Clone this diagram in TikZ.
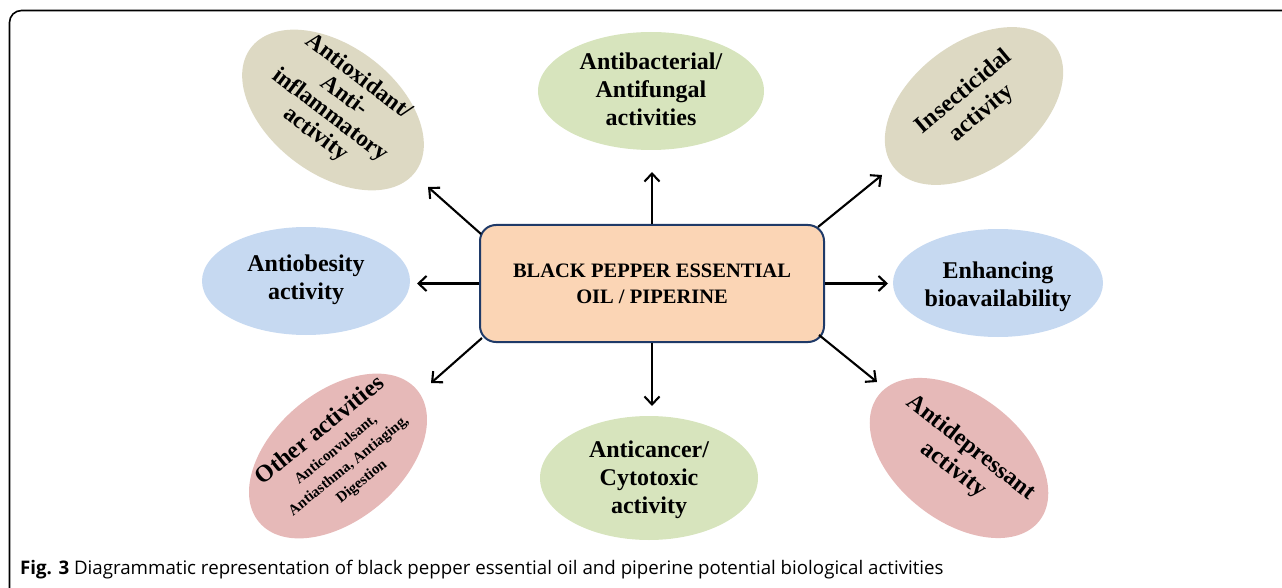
\documentclass[tikz,border=0pt]{standalone}
\usepackage{fontspec}
\setmainfont{Liberation Serif}
\newfontfamily\capfont{Open Sans}
\usetikzlibrary{shapes.geometric,arrows.meta}
\definecolor{tanc}{HTML}{DDD9C3}
\definecolor{greenc}{HTML}{D7E4BD}
\definecolor{bluec}{HTML}{C6D9F1}
\definecolor{pinkc}{HTML}{E6B9B8}
\definecolor{peach}{HTML}{FBD5B5}
\definecolor{navy}{HTML}{1F3A68}
\begin{document}
\begin{tikzpicture}[x=1pt,y=-1pt,
  ell/.style={ellipse, draw=none, inner sep=0pt},
  lbl/.style={font=\fontsize{24}{28}\selectfont\bfseries, align=center, text=black, inner sep=0pt},
  arr/.style={line width=2.1pt, -{Straight Barb[length=8pt,width=15pt,line width=2.1pt]}}]
\useasboundingbox (0,0) rectangle (1282,588);
% frame
\draw[line width=1.6pt, rounded corners=12pt] (1300,10.5) -- (9.5,10.5) -- (9.5,600);
% ellipses
\node[ell, fill=tanc, minimum width=206pt, minimum height=128pt, rotate=-37] (tl) at (333,110) {};
\node[lbl, rotate=-37, font=\fontsize{23.5}{24}\selectfont\bfseries] (tlt) at (337,106) {Antioxidant/\\Anti-\\inflammatory\\activity};
\node[ell, fill=greenc, minimum width=226pt, minimum height=118pt] (tm) at (651,91) {};
\node[lbl] (tmt) at (651,89) {Antibacterial/\\Antifungal\\activities};
\node[ell, fill=tanc, minimum width=202pt, minimum height=126pt, rotate=37] (tr) at (974,106) {};
\node[lbl, rotate=40] (trt) at (973,103) {Insecticidal\\activity};
\node[ell, fill=bluec, minimum width=208pt, minimum height=108pt] (ml) at (306,281) {};
\node[lbl] (mlt) at (306,280) {Antiobesity\\activity};
\node[ell, fill=bluec, minimum width=210pt, minimum height=108pt] (mr) at (998,283) {};
\node[lbl] (mrt) at (998,287) {Enhancing\\bioavailability};
\node[ell, fill=pinkc, minimum width=206pt, minimum height=128pt, rotate=40] (bl) at (338,456) {};
\node[lbl, rotate=39, align=center, font=\fontsize{15}{17.5}\selectfont\bfseries] (blt) at (340,455) {{\fontsize{24}{28}\selectfont Other activities}\\[5pt]Anticonvulsant,\\[3pt]Antiasthma, Antiaging,\\[3pt]Digestion};
\node[ell, fill=greenc, minimum width=218pt, minimum height=124pt] (bm) at (649,478) {};
\node[lbl] (bmt) at (649,480) {Anticancer/\\Cytotoxic\\activity};
\node[ell, fill=pinkc, minimum width=204pt, minimum height=126pt, rotate=-38] (br) at (959,458) {};
\node[lbl, rotate=-38] (brt) at (962,459) {Antidepressant\\activity};
% central box
\node[draw=navy, fill=peach, line width=2pt, rounded corners=16pt, minimum width=344pt, minimum height=117pt, align=center, font=\fontsize{20.5}{26}\selectfont\bfseries] (box) at (652,283.5) {BLACK PEPPER ESSENTIAL\\OIL / PIPERINE};
% arrow tips
\coordinate (tipU) at (652,172);
\coordinate (tipD) at (652,406);
\coordinate (tipL) at (417,283.5);
\coordinate (tipR) at (888,283.5);
\coordinate (tipUL) at (428,187);
\coordinate (tipUR) at (882,175);
\coordinate (tipLL) at (431,383);
\coordinate (tipLR) at (877,382);
\draw[arr] (box.north) -- (tipU);
\draw[arr] (box.south) -- (tipD);
\draw[arr] (box.west) -- (tipL);
\draw[arr] (box.east) -- (tipR);
\draw[arr] ([shift={(2,10)}]box.north west) -- (tipUL);
\draw[arr] ([shift={(-7,3)}]box.north east) -- (tipUR);
\draw[arr] ([shift={(3,-5)}]box.south west) -- (tipLL);
\draw[arr] ([shift={(-6,-8)}]box.south east) -- (tipLR);
% caption
\node[anchor=base west, inner sep=0pt, font=\capfont\fontsize{18.7}{20}\selectfont] (cap) at (20,574) {\textbf{Fig. 3} Diagrammatic representation of black pepper essential oil and piperine potential biological activities};
\end{tikzpicture}
\end{document}
